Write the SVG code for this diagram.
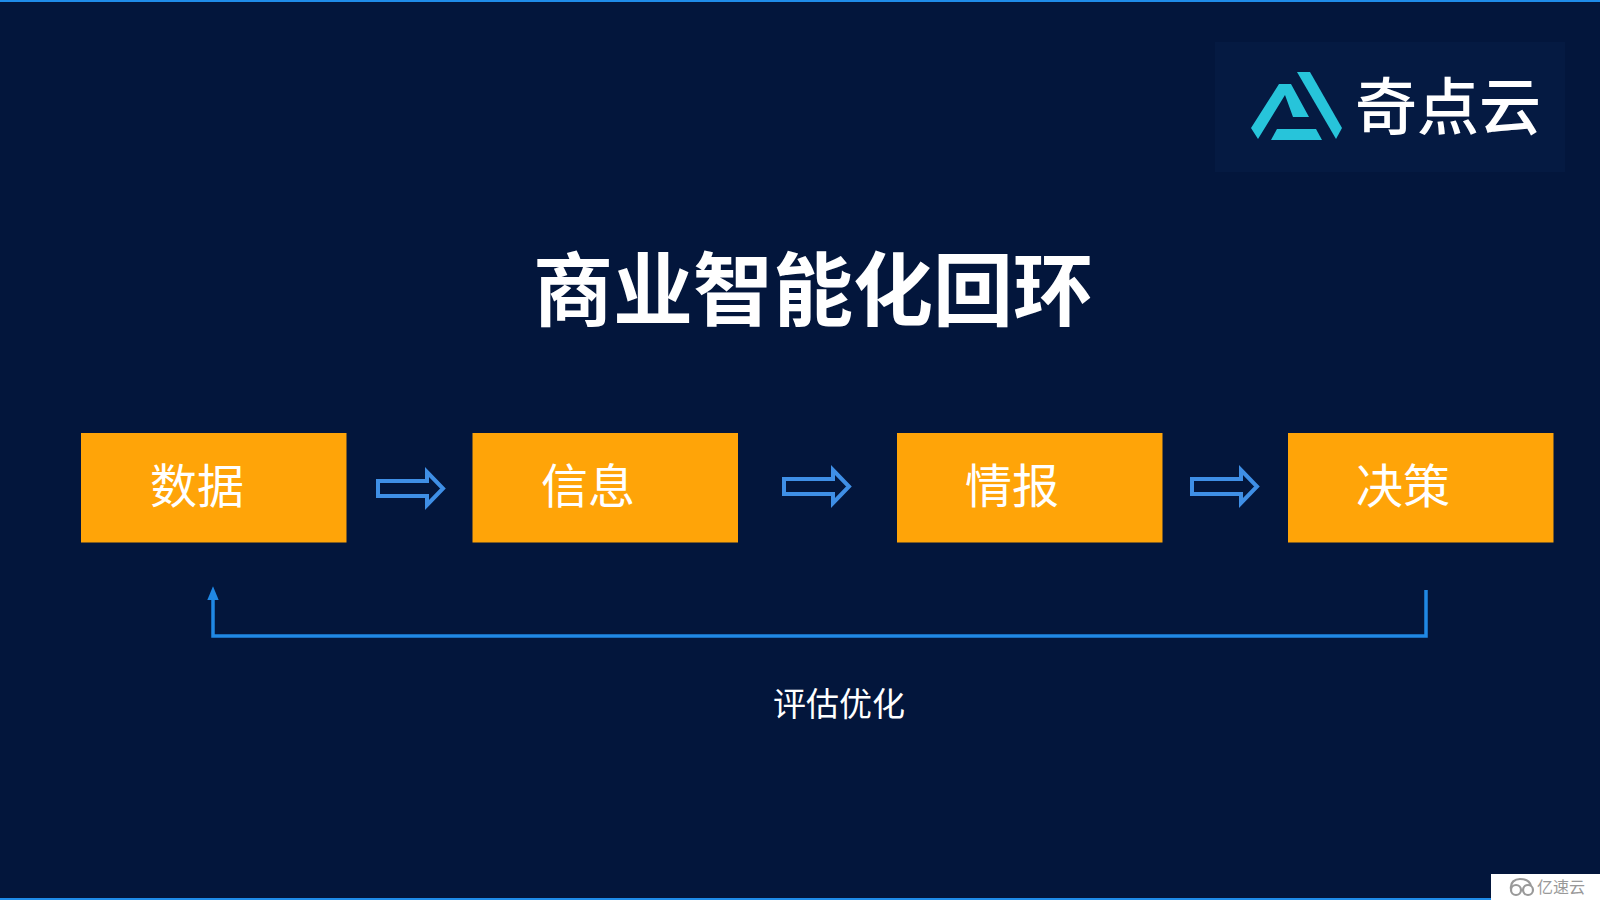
<svg xmlns="http://www.w3.org/2000/svg" width="1600" height="900" viewBox="0 0 1600 900">
<defs>
<style>
.cjk{font-family:"Noto Sans CJK SC","Noto Sans",sans-serif}
.box{fill:#ffa408}
.bt{fill:#fff;font-size:47px}
.arrow{fill:none;stroke:#3f8fe6;stroke-width:4}
</style>
<marker id="tip" markerUnits="userSpaceOnUse" markerWidth="14" markerHeight="12" refX="2" refY="5" orient="auto" viewBox="0 0 12 10"><path d="M0 0L12 5L0 10Z" fill="#2088e4"/></marker>
</defs>
<rect width="1600" height="900" fill="#03163c"/>
<rect x="0" y="0" width="1600" height="2" fill="#1f8cea"/>
<rect x="0" y="898" width="1600" height="2" fill="#1f8cea"/>
<g id="logo">
<rect x="1215" y="42" width="350" height="130" fill="#051a42"/>
<g fill="#27c4da">
<polygon points="1297,72 1310,72 1342,128 1336,139"/>
<polygon points="1279,84 1291,84 1309,117 1293,117 1285,95 1258,139 1251,128"/>
<polygon points="1277,129 1316,129 1322,140 1271,140"/>
</g>
<text class="cjk" x="1355" y="130" font-size="62" fill="#fff" font-weight="500">奇点云</text>
</g>
<g id="title"><text class="cjk" x="813" y="319" font-size="80" font-weight="700" fill="#fff" text-anchor="middle">商业智能化回环</text></g>
<g id="node-data"><rect class="box" x="81" y="433" width="265.500" height="109.500"/><text class="cjk bt" x="197" y="503" text-anchor="middle">数据</text></g>
<g id="node-info"><rect class="box" x="472.500" y="433" width="265.500" height="109.500"/><text class="cjk bt" x="588" y="503" text-anchor="middle">信息</text></g>
<g id="node-intel"><rect class="box" x="897" y="433" width="265.500" height="109.500"/><text class="cjk bt" x="1012" y="503" text-anchor="middle">情报</text></g>
<g id="node-decision"><rect class="box" x="1288" y="433" width="265.500" height="109.500"/><text class="cjk bt" x="1403" y="503" text-anchor="middle">决策</text></g>
<g id="connectors">
<path class="arrow" d="M378 481H427V472L443 488.500L427 505V496H378Z"/>
<path class="arrow" d="M784 479H833V470L849 486.500L833 503V494H784Z"/>
<path class="arrow" d="M1192 479H1241V470L1257 486.500L1241 503V494H1192Z"/>
<path d="M1426 590V636H213V598" fill="none" stroke="#2088e4" stroke-width="3.500" marker-end="url(#tip)"/>
</g>
<g id="label"><text class="cjk" x="839" y="716" font-size="33" fill="#fff" text-anchor="middle">评估优化</text></g>
<g id="watermark">
<rect x="1491" y="874" width="109" height="26" fill="#fff"/>
<g fill="none" stroke="#999" stroke-width="2.200">
<circle cx="1516" cy="890" r="5"/><circle cx="1528" cy="890" r="5"/>
<path d="M1511 889C1510 882 1515 879 1520 879C1526 879 1530 882 1531 886"/>
</g>
<text class="cjk" x="1537" y="893" font-size="16" fill="#999">亿速云</text>
</g>
</svg>
